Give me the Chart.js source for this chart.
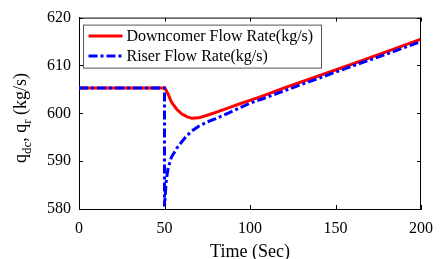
<!DOCTYPE html>
<html>
<head>
<meta charset="utf-8">
<script src="https://cdn.jsdelivr.net/npm/chart.js@4"></script>
<style>
  html, body { margin: 0; padding: 0; background: #fff; }
  #wrap { width: 443px; height: 259px; }
</style>
</head>
<body>
<div id="wrap"><canvas id="grafica"></canvas></div>
<script>
// datos
const tiempo = [0, 50, 50, 51, 52, 54, 57, 60, 63, 66, 70, 75, 80, 87, 95, 100, 108, 120, 140, 160, 180, 200];
const downcomer = [605.3, 605.3, 605.3, 604.8, 604.1, 602.4, 600.9, 599.9, 599.3, 598.95, 599.05, 599.6, 600.2, 601.1, 602.1, 602.7, 603.7, 605.3, 607.8, 610.3, 612.9, 615.5];
const riser = [605.3, 605.3, 580.5, 585.8, 588.3, 590.8, 592.6, 594.0, 595.3, 596.3, 597.3, 598.2, 598.9, 600.0, 601.3, 602.1, 603.1, 604.7, 607.3, 609.9, 612.4, 615.0];
const ticksX = [0, 50, 100, 150, 200];
const ticksY = [580, 590, 600, 610, 620];
const etiquetas = ['Downcomer Flow Rate(kg/s)', 'Riser Flow Rate(kg/s)'];

const fuente = '"Liberation Serif", "Times New Roman", serif';

const puntos = serie => tiempo.map((t, i) => ({ x: t, y: serie[i] }));

// marcas hacia dentro, caja, leyenda y titulo del eje y
const extras = {
  id: 'extras',
  afterDraw(chart) {
    const ctx = chart.ctx;
    const a = chart.chartArea;
    const sx = chart.scales.x, sy = chart.scales.y;
    ctx.save();
    ctx.strokeStyle = '#000';
    ctx.lineWidth = 1;
    ctx.beginPath();
    ctx.moveTo(a.left, a.top + 0.5); ctx.lineTo(a.right, a.top + 0.5);
    ctx.moveTo(a.right - 0.5, a.top); ctx.lineTo(a.right - 0.5, a.bottom);
    ticksX.forEach(v => {
      const px = Math.round(sx.getPixelForValue(v)) + 0.5;
      ctx.moveTo(px, a.bottom); ctx.lineTo(px, a.bottom - 4);
      ctx.moveTo(px, a.top); ctx.lineTo(px, a.top + 4);
    });
    ticksY.forEach(v => {
      const py = Math.round(sy.getPixelForValue(v)) + 0.5;
      ctx.moveTo(a.left, py); ctx.lineTo(a.left + 4, py);
      ctx.moveTo(a.right, py); ctx.lineTo(a.right - 4, py);
    });
    ctx.stroke();

    // leyenda
    const lx = a.left + 4.5, ly = a.top + 7.5, lw = 238, lh = 43;
    ctx.fillStyle = '#fff';
    ctx.fillRect(lx, ly, lw, lh);
    ctx.strokeStyle = '#555';
    ctx.strokeRect(lx, ly, lw, lh);
    ctx.font = '16px ' + fuente;
    ctx.textBaseline = 'middle';
    chart.data.datasets.forEach((ds, i) => {
      const y = ly + 11 + i * 20;
      ctx.strokeStyle = ds.borderColor;
      ctx.lineWidth = ds.borderWidth;
      ctx.setLineDash(ds.borderDash || []);
      ctx.beginPath();
      ctx.moveTo(lx + 5, y); ctx.lineTo(lx + 39, y);
      ctx.stroke();
      ctx.setLineDash([]);
      ctx.fillStyle = '#000';
      ctx.fillText(ds.label, lx + 43, y + 1);
    });

    // titulo eje y con subindices
    const partes = [['q', 0], ['dc', 1], [', q', 0], ['r', 1], [' (kg/s)', 0]];
    const fNormal = '18px ' + fuente, fSub = '13px ' + fuente;
    let total = 0;
    partes.forEach(p => { ctx.font = p[1] ? fSub : fNormal; total += ctx.measureText(p[0]).width; });
    ctx.translate(21, 118);
    ctx.rotate(-Math.PI / 2);
    ctx.fillStyle = '#000';
    ctx.textBaseline = 'alphabetic';
    let x = -total / 2;
    partes.forEach(p => {
      ctx.font = p[1] ? fSub : fNormal;
      ctx.fillText(p[0], x, p[1] ? 10 : 5);
      x += ctx.measureText(p[0]).width;
    });
    ctx.restore();
  }
};

new Chart(document.getElementById('grafica'), {
  type: 'scatter',
  data: {
    datasets: [{
      label: etiquetas[0],
      data: puntos(downcomer),
      showLine: true,
      borderColor: '#ff0000',
      backgroundColor: '#ff0000',
      borderWidth: 3,
      pointRadius: 0,
      tension: 0,
      order: 1
    }, {
      label: etiquetas[1],
      data: puntos(riser),
      showLine: true,
      borderColor: '#0000ff',
      backgroundColor: '#0000ff',
      borderWidth: 3,
      borderDash: [9, 3, 3, 3],
      pointRadius: 0,
      tension: 0,
      order: 0
    }]
  },
  options: {
    responsive: true,
    maintainAspectRatio: false,
    animation: false,
    layout: { padding: { top: 16, right: 12, left: 0, bottom: 0 } },
    plugins: { legend: { display: false }, tooltip: { enabled: false } },
    scales: {
      x: {
        type: 'linear',
        min: 0, max: 200,
        afterBuildTicks: s => { s.ticks = ticksX.map(v => ({ value: v })); },
        afterFit: s => { s.height = 50; },
        grid: { display: false, drawTicks: false },
        border: { color: '#000', width: 1 },
        ticks: { color: '#000', padding: 10, maxRotation: 0, font: { family: fuente, size: 16 } },
        title: { display: true, text: 'Time (Sec)', color: '#000', padding: { top: 0, bottom: -4 }, font: { family: fuente, size: 18 } }
      },
      y: {
        min: 580, max: 620,
        afterBuildTicks: s => { s.ticks = ticksY.map(v => ({ value: v })); },
        afterFit: s => { s.width = 79; },
        grid: { display: false, drawTicks: false },
        border: { color: '#000', width: 1 },
        ticks: { color: '#000', padding: 8, font: { family: fuente, size: 16 } }
      }
    }
  },
  plugins: [extras]
});
</script>
</body>
</html>
